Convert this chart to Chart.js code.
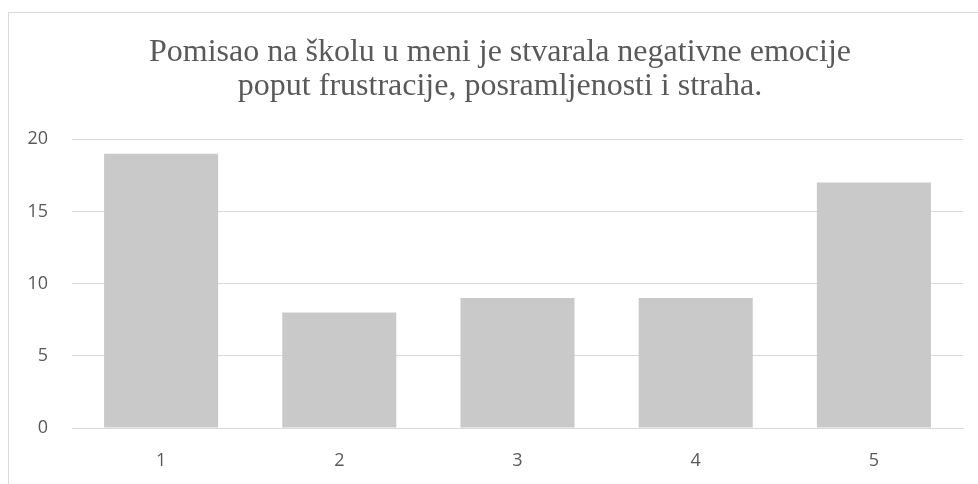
<!DOCTYPE html>
<html>
<head>
<meta charset="utf-8">
<script src="https://cdn.jsdelivr.net/npm/chart.js@4/dist/chart.umd.min.js"></script>
<style>
  html, body { margin: 0; padding: 0; background: #fff; }
  #frame {
    position: absolute;
    left: 8px;
    top: 12px;
    width: 969px;
    height: 471px;
    border-top: 1px solid #d9d9d9;
    border-left: 1px solid #d9d9d9;
  }
  #chart { display: block; }
</style>
</head>
<body>
<div id="frame"><canvas id="chart" width="969" height="471"></canvas></div>
<script>
const titleLines = [
  "Pomisao na školu u meni je stvarala negativne emocije",
  "poput frustracije, posramljenosti i straha."
];
const categories = ["1", "2", "3", "4", "5"];
const answers = [19, 8, 9, 9, 17];
const yTicks = [0, 5, 10, 15, 20];

const textColor = "#595959";
const gridColor = "#d9d9d9";
const barColor = "#c9c9c9";

// title in the original sits a few px right of the canvas centre
const titleShift = {
  "id": "titleShift",
  afterLayout(chart) {
    if (chart.titleBlock) chart.titleBlock.left += 10;
  },
};

new Chart(document.getElementById("chart"), {
  "type": "bar",
  "plugins": [titleShift],
  "data": {
    "labels": categories,
    "datasets": [{
      "label": "odgovori",
      "data": answers,
      "backgroundColor": barColor,
      "borderWidth": 0,
      "barPercentage": 0.64,
      "categoryPercentage": 1,
    }],
  },
  "options": {
    "responsive": false,
    "animation": false,
    "layout": {
      "padding": { "left": 18, "right": 15, "top": 0, "bottom": 0 },
    },
    "plugins": {
      "legend": { "display": false },
      "tooltip": { "enabled": false },
      "title": {
        "display": true,
        "text": titleLines,
        "color": textColor,
        "font": { "family": "'Liberation Serif', 'Times New Roman', serif", "size": 32, "weight": "normal", "lineHeight": 1.05 },
        "padding": { "top": 23, "bottom": 36 },
      },
    },
    "scales": {
      "x": {
        "grid": { "display": false },
        "border": { "display": true, "color": gridColor, "width": 1 },
        "ticks": {
          "color": textColor,
          "font": { "family": "'Open Sans', sans-serif", "size": 18 },
          "padding": 14,
        },
        "afterFit": (axis) => { axis.height = 56; },
      },
      "y": {
        "min": yTicks[0],
        "max": yTicks[yTicks.length - 1],
        "afterBuildTicks": (axis) => { axis.ticks = yTicks.map((v) => ({ "value": v })); },
        "grid": { "color": gridColor, "lineWidth": 1, "drawTicks": false },
        "border": { "display": false },
        "ticks": {
          "color": textColor,
          "font": { "family": "'Open Sans', sans-serif", "size": 18 },
          "padding": 24,
        },
        "afterFit": (axis) => { axis.width = 45; },
      },
    },
  },
});
</script>
</body>
</html>
